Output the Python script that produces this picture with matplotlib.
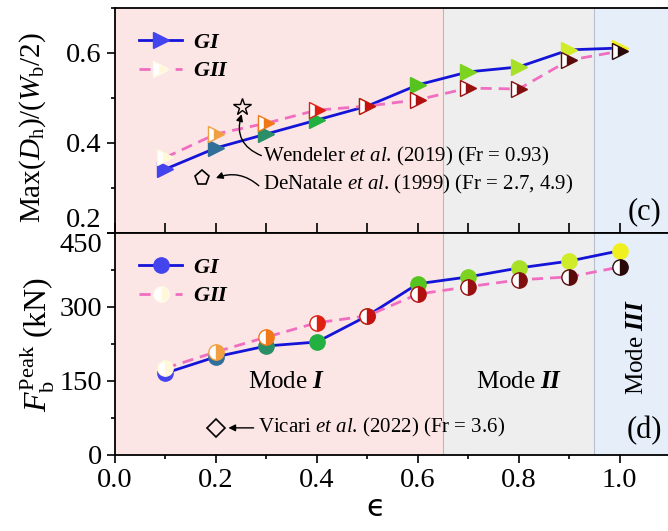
import matplotlib
matplotlib.use("Agg")
import matplotlib.pyplot as plt
from matplotlib.lines import Line2D
from matplotlib.ticker import MultipleLocator

plt.rcParams['font.family'] = 'Liberation Serif'
plt.rcParams['mathtext.fontset'] = 'custom'
plt.rcParams['mathtext.rm'] = 'Liberation Serif'
plt.rcParams['mathtext.it'] = 'Liberation Serif:italic'
plt.rcParams['mathtext.bf'] = 'Liberation Serif:bold:italic'

# data
eps = [0.1, 0.2, 0.3, 0.4, 0.5, 0.6, 0.7, 0.8, 0.9, 1.0]
dh_gi = [0.342, 0.389, 0.420, 0.451, 0.482, 0.529, 0.558, 0.569, 0.607, 0.611]
dh_gii = [0.368, 0.420, 0.444, 0.473, 0.482, 0.496, 0.522, 0.520, 0.584, 0.604]
fb_gi = [166, 199, 221, 229, 282, 347, 361, 379, 393, 414]
fb_gii = [176, 209, 239, 268, 282, 326, 341, 355, 361, 381]

gi_colors = ['#4444ee', '#2f6f9a', '#2a8f66', '#22b040', '#36b83a',
             '#55c41e', '#7dd420', '#a8e028', '#d0ec28', '#f0f020']
gii_colors = ['#fff8d8', '#f0a040', '#f07818', '#e02010', '#c81010',
              '#b01010', '#981010', '#801010', '#5a0a0a', '#2a0808']

# literature points
wendeler = (0.251, 0.48)
denatale = (0.172, 0.322)
vicari = (0.2, 55)

modes = [(0.0, 0.65, '#fce5e5'), (0.65, 0.95, '#eeeeee'), (0.95, 1.1, '#e6eef9')]

fig = plt.figure(figsize=(6.68, 5.31), dpi=100)
ax1 = fig.add_axes([115/668, (531-233)/531, 555/668, 225/531])
ax2 = fig.add_axes([115/668, (531-455)/531, 555/668, 222/531])

for ax in (ax1, ax2):
    for a, b, c in modes:
        ax.axvspan(a, b, color=c, lw=0, zorder=0)
    ax.axvline(0.65, color='#b8b8b8', lw=0.8, zorder=1)
    ax.axvline(0.95, color='#b8c0d0', lw=0.8, zorder=1)
    ax.set_xlim(0, 1.1)
    ax.xaxis.set_major_locator(MultipleLocator(0.2))
    ax.xaxis.set_minor_locator(MultipleLocator(0.1))
    ax.tick_params(axis='y', which='major', direction='out', length=6, width=1.2, labelsize=20.5)
    ax.tick_params(axis='y', which='minor', direction='out', length=3, width=1.2)
    for s in ax.spines.values():
        s.set_linewidth(1.3)


def draw(ax, y1, y2, mk, ms):
    ax.plot(eps, y1, color='#1414d8', lw=2, zorder=3)
    ax.plot(eps, y2, color='#f06ec0', lw=2, ls=(0, (4, 2.5)), zorder=3)
    for i in range(len(eps)):
        ax.plot(eps[i], y1[i], mk, color=gi_colors[i], ms=ms, mec=gi_colors[i], zorder=4)
    for i in range(len(eps)):
        ax.plot(eps[i], y2[i], mk, ms=ms, fillstyle='right', mfc=gii_colors[i],
                mfcalt='white', mec=gii_colors[i], mew=1.0, zorder=5)
    h1 = Line2D([], [], color='#1414d8', lw=2, marker=mk, ms=ms, mfc='#4444ee', mec='#4444ee')
    h2 = Line2D([], [], color='#f06ec0', lw=2, ls=(0, (4, 2.5)), marker=mk, ms=ms,
                fillstyle='right', mfc='#fff8d8', mfcalt='white', mec='#fffbe8')
    ax.legend([h1, h2], [r'$\mathbf{GI}$', r'$\mathbf{GII}$'], loc='upper left',
              frameon=False, fontsize=16, handlelength=1.9, borderaxespad=0.7,
              labelspacing=0.35, handletextpad=0.5)


# top panel
draw(ax1, dh_gi, dh_gii, '>', 11)
ax1.set_ylim(0.2, 0.7)
ax1.set_yticks([0.2, 0.4, 0.6])
ax1.set_yticklabels(['0.2', '0.4', '0.6'])
ax1.yaxis.set_minor_locator(MultipleLocator(0.1))
ax1.get_yticklabels()[0].set_va('bottom')
ax1.tick_params(axis='x', which='both', direction='in', length=7, width=1.2, labelbottom=False)
ax1.set_ylabel(r'Max($D_{\rm h}$)/($W_{\rm b}$/2)', fontsize=21)
ax1.yaxis.set_label_coords(-0.12, 0.47)

ax1.plot(*wendeler, marker='*', ms=13, mfc='none', mec='black', mew=1, zorder=6)
ax1.plot(*denatale, marker='p', ms=11, mfc='none', mec='black', mew=1.2, zorder=6)
ax1.text(0.293, 0.369, 'Wendeler $et$ $al$. (2019) (Fr = 0.93)', fontsize=15, va='center')
ax1.annotate('', xy=(wendeler[0], wendeler[1] - 0.016), xytext=(0.29, 0.372),
             arrowprops=dict(arrowstyle='-|>', color='black', lw=1, mutation_scale=10,
                             connectionstyle='arc3,rad=-0.45', shrinkA=0, shrinkB=0))
ax1.text(0.293, 0.307, 'DeNatale $et$ $al$. (1999) (Fr = 2.7, 4.9)', fontsize=15, va='center')
ax1.annotate('', xy=(denatale[0] + 0.028, denatale[1]), xytext=(0.285, 0.305),
             arrowprops=dict(arrowstyle='-|>', color='black', lw=1, mutation_scale=10,
                             connectionstyle='arc3,rad=0.3', shrinkA=0, shrinkB=0))
ax1.text(1.05, 0.215, '(c)', fontsize=22, ha='center', va='bottom')

# bottom panel
draw(ax2, fb_gi, fb_gii, 'o', 11)
ax2.set_ylim(0, 450)
ax2.set_yticks([0, 150, 300, 450])
ax2.set_yticklabels(['0', '150', '300', '450'])
ax2.yaxis.set_minor_locator(MultipleLocator(75))
ax2.get_yticklabels()[-1].set_va('top')
ax2.tick_params(axis='x', which='major', direction='out', length=6, width=1.2, labelsize=20.5)
ax2.tick_params(axis='x', which='minor', direction='out', length=3, width=1.2)
ax2.set_ylabel(r'$F_{\rm b}^{\rm Peak}$ (kN)', fontsize=23)
ax2.yaxis.set_label_coords(-0.105, 0.5)
ax2.set_xlabel('\u03f5', fontsize=22, family='DejaVu Sans')
ax2.xaxis.set_label_coords(0.47, -0.17)

ax2.plot(*vicari, marker='D', ms=9, mfc='none', mec='black', mew=1.2, zorder=6)
ax2.annotate('Vicari $et$ $al$. (2022) (Fr = 3.6)', xy=(vicari[0] + 0.022, vicari[1]),
             xytext=(0.283, vicari[1]), fontsize=15, va='center',
             arrowprops=dict(arrowstyle='-|>', color='black', lw=1, mutation_scale=10,
                             shrinkA=1, shrinkB=1))
ax2.text(0.34, 148, r'Mode $\mathbf{I}$', fontsize=18, ha='center', va='center')
ax2.text(0.80, 148, r'Mode $\mathbf{II}$', fontsize=18, ha='center', va='center')
ax2.text(1.035, 219, r'Mode $\mathbf{III}$', fontsize=18, ha='center', va='center', rotation=90)
ax2.text(1.05, 20, '(d)', fontsize=22, ha='center', va='bottom')

fig.savefig('out.png', dpi=100)
